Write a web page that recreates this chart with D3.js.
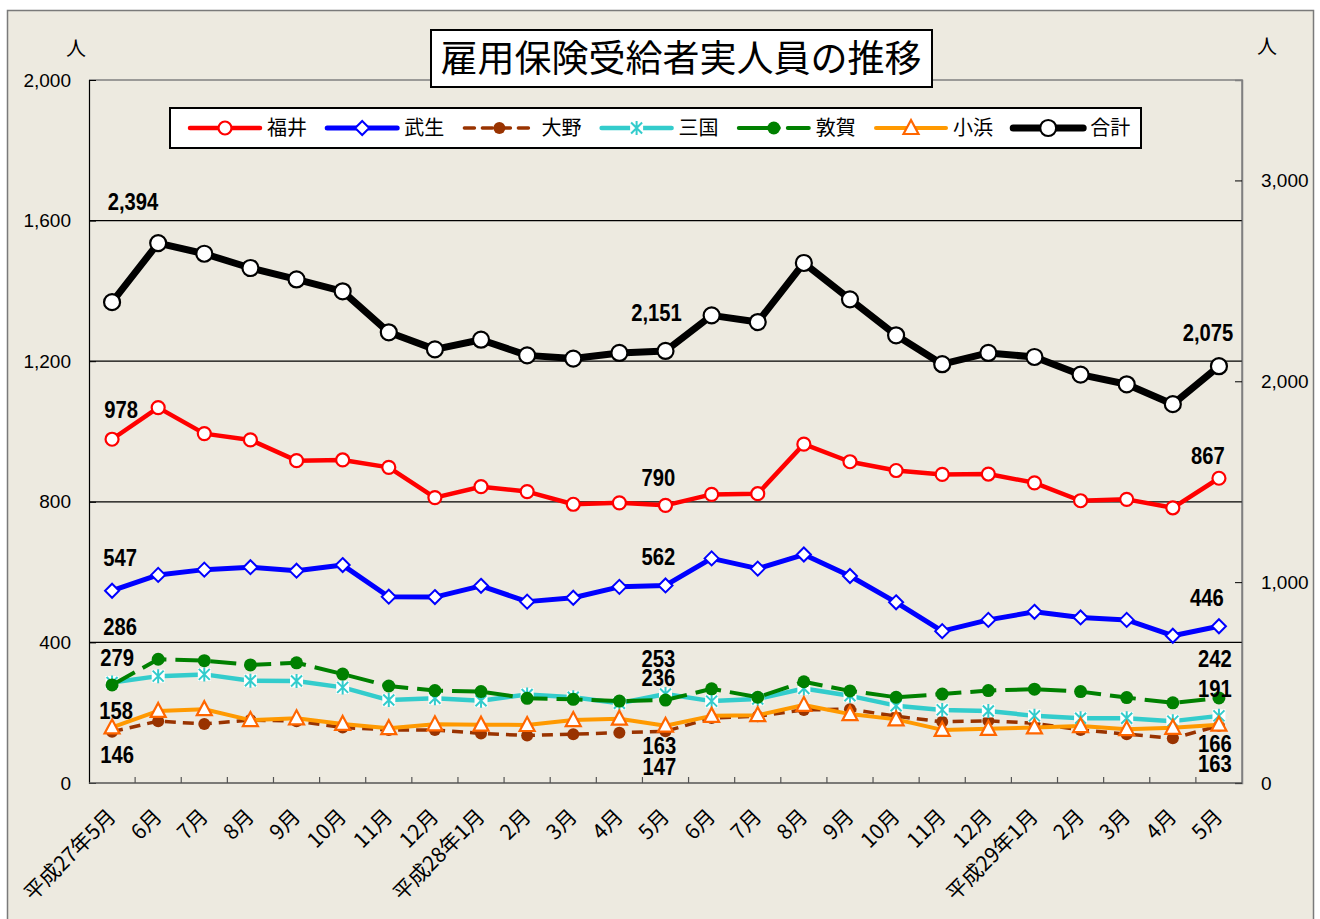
<!DOCTYPE html>
<html lang="ja">
<head>
<meta charset="utf-8">
<title>雇用保険受給者実人員の推移</title>
<script src="https://cdn.jsdelivr.net/npm/d3@7"></script>
<style>
  body { margin: 0; background: #fff; }
  svg { display: block; }
  .cjk { font-family: "Noto Sans CJK JP", sans-serif; }
  .num { font-family: "Liberation Sans", Arial, sans-serif; }
  .lbl { font-family: "Liberation Sans", Arial, sans-serif; font-weight: bold; }
</style>
</head>
<body>
<script>
// months: H27/5 .. H29/5
var months = ["平成27年5月","6月","7月","8月","9月","10月","11月","12月",
              "平成28年1月","2月","3月","4月","5月","6月","7月","8月","9月","10月","11月","12月",
              "平成29年1月","2月","3月","4月","5月"];

var fukui  = [978, 1068, 994, 976, 917, 919, 898, 812, 843, 829, 793, 797, 790, 821, 823, 964, 914, 889, 878, 879, 854, 803, 807, 783, 867];
var takefu = [547, 592, 607, 614, 604, 620, 530, 529, 561, 516, 527, 558, 562, 639, 610, 650, 589, 514, 432, 464, 487, 471, 464, 419, 446];
var ono    = [146, 176, 168, 179, 176, 158, 151, 151, 141, 135, 139, 143, 147, 185, 190, 208, 210, 190, 174, 177, 170, 151, 139, 127, 163];
var mikuni = [286, 304, 309, 291, 290, 272, 236, 241, 234, 252, 244, 227, 253, 233, 239, 269, 248, 220, 208, 205, 191, 184, 184, 176, 191];
var tsuruga= [279, 352, 348, 336, 342, 310, 276, 263, 260, 241, 238, 233, 236, 268, 244, 288, 262, 244, 253, 263, 267, 260, 243, 228, 242];
var obama  = [158, 205, 210, 179, 184, 168, 156, 167, 166, 165, 179, 183, 163, 191, 193, 222, 196, 181, 151, 154, 158, 162, 153, 157, 166];
var total  = [2394, 2688, 2635, 2564, 2507, 2448, 2244, 2159, 2207, 2129, 2113, 2141, 2151, 2328, 2295, 2589, 2408, 2229, 2085, 2141, 2121, 2033, 1985, 1886, 2075];

var leftTicks = [0, 400, 800, 1200, 1600, 2000];
var rightTicks = [0, 1000, 2000, 3000];
var labelIdx = [0, 12, 24];

var W = 1320, H = 919;
var svg = d3.select("body").append("svg").attr("width", W).attr("height", H);

// outer chart frame
svg.append("rect").attr("x", 7.5).attr("y", 10.5).attr("width", 1306).attr("height", 920)
  .attr("fill", "#edeae0").attr("stroke", "#7a7a7a").attr("stroke-width", 1.5);

var L = 89, R = 1242, T = 80, B = 783;

var x = d3.scaleBand().domain(d3.range(months.length)).range([L, R]);
var px = function(i) { return x(i) + x.bandwidth() / 2; };
var yL = d3.scaleLinear().domain([0, 2000]).range([B, T]);
var yR = d3.scaleLinear().domain([0, 3500]).range([B, T]);

// plot border (top/right)
svg.append("path").attr("d", "M" + L + "," + T + "H" + R + "V" + B)
  .attr("fill", "none").attr("stroke", "#808080").attr("stroke-width", 1.5);

// gridlines
svg.append("g").selectAll("line").data(leftTicks.filter(function(d) { return d > 0 && d < 2000; }))
  .enter().append("line")
  .attr("x1", L).attr("x2", R)
  .attr("y1", function(d) { return yL(d); }).attr("y2", function(d) { return yL(d); })
  .attr("stroke", "#000").attr("stroke-width", 1.2);

// left axis
var gl = svg.append("g").attr("transform", "translate(" + L + ",0)")
  .call(d3.axisLeft(yL).tickValues(leftTicks).tickFormat(d3.format(",")).tickSize(-7).tickPadding(18));
gl.select(".domain").attr("stroke", "#000").attr("stroke-width", 1.2);
gl.selectAll("text").attr("class", "num").attr("font-size", 19).attr("fill", "#000");

// right axis
var gr = svg.append("g").attr("transform", "translate(" + R + ",0)")
  .call(d3.axisRight(yR).tickValues(rightTicks).tickFormat(d3.format(",")).tickSize(-7).tickPadding(19));
gr.select(".domain").attr("stroke", "#808080").attr("stroke-width", 1.5);
gr.selectAll("text").attr("class", "num").attr("font-size", 19).attr("fill", "#000");

// bottom axis with ticks at category boundaries
svg.append("line").attr("x1", L).attr("x2", R).attr("y1", B).attr("y2", B)
  .attr("stroke", "#555").attr("stroke-width", 1.5);
svg.append("g").selectAll("line").data(d3.range(1, months.length))
  .enter().append("line")
  .attr("x1", function(i) { return x(i); }).attr("x2", function(i) { return x(i); })
  .attr("y1", B).attr("y2", B - 6).attr("stroke", "#555").attr("stroke-width", 1.2);

svg.append("g").selectAll("text").data(months).enter().append("text")
  .attr("class", "cjk")
  .attr("font-size", 21)
  .attr("text-anchor", "end")
  .attr("transform", function(d, i) { return "translate(" + (px(i) + 5) + "," + (B + 35) + ") rotate(-45)"; })
  .text(function(d) { return d; });

// units
svg.append("text").attr("class", "cjk").attr("x", 76).attr("y", 56).attr("text-anchor", "middle").attr("font-size", 20).text("人");
svg.append("text").attr("class", "cjk").attr("x", 1267).attr("y", 54).attr("text-anchor", "middle").attr("font-size", 20).text("人");

// marker shapes
function marker(g, type, color, stroke) {
  if (type === "circleOpen") {
    g.append("circle").attr("r", 6.5).attr("fill", "#fff").attr("stroke", color).attr("stroke-width", 2.2);
  } else if (type === "circleBig") {
    g.append("circle").attr("r", 8).attr("fill", "#fff").attr("stroke", color).attr("stroke-width", 2.2);
  } else if (type === "diamond") {
    g.append("path").attr("d", "M0,-7L7,0L0,7L-7,0Z").attr("fill", "#fff").attr("stroke", color).attr("stroke-width", 2);
  } else if (type === "dot") {
    g.append("circle").attr("r", 6).attr("fill", color);
  } else if (type === "dotBig") {
    g.append("circle").attr("r", 6.5).attr("fill", color);
  } else if (type === "star") {
    g.append("rect").attr("x", -6.5).attr("y", -6.5).attr("width", 13).attr("height", 13).attr("fill", "#fff");
    g.append("path").attr("d", "M-5.5,-5.5L5.5,5.5M-5.5,5.5L5.5,-5.5M0,-7V7")
      .attr("stroke", color).attr("stroke-width", 2).attr("fill", "none");
  } else if (type === "triangle") {
    g.append("path").attr("d", "M0,-8L7.5,6H-7.5Z").attr("fill", "#fff").attr("stroke", stroke).attr("stroke-width", 2.2);
  }
}

var series = [
  { name: "福井", values: fukui,   axis: yL, color: "#ff0000", width: 4.5, dash: null,   mk: "circleOpen",
    lab: [[9, -21], [-7, -19], [-11, -14]] },
  { name: "武生", values: takefu,  axis: yL, color: "#0000ff", width: 5,   dash: null,   mk: "diamond",
    lab: [[8, -25], [-7, -20], [-12, -20]] },
  { name: "大野", values: ono,     axis: yL, color: "#993300", width: 3.5, dash: "11,7", mk: "dot",
    lab: [[5, 31], [-6, 44], [-4, 46]] },
  { name: "三国", values: mikuni,  axis: yL, color: "#33cccc", width: 4.5, dash: null,   mk: "star",
    lab: [[8, -47], [-7, -27], [-4, -19]] },
  { name: "敦賀", values: tsuruga, axis: yL, color: "#008000", width: 4,   dash: "26,9", mk: "dotBig",
    lab: [[5, -19], [-7, -14], [-4, -31]] },
  { name: "小浜", values: obama,   axis: yL, color: "#ff9900", width: 4,   dash: null,   mk: "triangle", mstroke: "#ff6600",
    lab: [[4, -8], [-6, 28], [-4, 27]] },
  { name: "合計", values: total,   axis: yR, color: "#000000", width: 7,   dash: null,   mk: "circleBig",
    lab: [[21, -92], [-9, -30], [-11, -25]] }
];

var line = d3.line();

series.forEach(function(s) {
  var pts = s.values.map(function(v, i) { return [px(i), s.axis(v)]; });
  var g = svg.append("g");
  g.append("path").attr("d", line(pts)).attr("fill", "none")
    .attr("stroke", s.color).attr("stroke-width", s.width)
    .attr("stroke-linejoin", "round")
    .attr("stroke-dasharray", s.dash);
  pts.forEach(function(p) {
    var m = g.append("g").attr("transform", "translate(" + p[0] + "," + p[1] + ")");
    marker(m, s.mk, s.color, s.mstroke);
  });
});

// data labels (slightly condensed bold numbers)
series.forEach(function(s) {
  labelIdx.forEach(function(i, k) {
    var lx = px(i) + s.lab[k][0], ly = s.axis(s.values[i]) + s.lab[k][1];
    svg.append("text").attr("class", "lbl")
      .attr("transform", "translate(" + lx + "," + ly + ") scale(0.92,1.05)")
      .attr("text-anchor", "middle").attr("font-size", 22)
      .text(d3.format(",")(s.values[i]));
  });
});

// title
svg.append("rect").attr("x", 431).attr("y", 30).attr("width", 501).attr("height", 57)
  .attr("fill", "#fff").attr("stroke", "#000").attr("stroke-width", 2);
svg.append("text").attr("class", "cjk").attr("x", 681).attr("y", 72)
  .attr("text-anchor", "middle").attr("font-size", 37).text("雇用保険受給者実人員の推移");

// legend
var lg = svg.append("g");
lg.append("rect").attr("x", 170).attr("y", 108).attr("width", 971).attr("height", 40)
  .attr("fill", "#fff").attr("stroke", "#000").attr("stroke-width", 2);
series.forEach(function(s, i) {
  var x0 = 190 + i * 137.2, yc = 128;
  lg.append("line").attr("x1", x0).attr("x2", x0 + 70).attr("y1", yc).attr("y2", yc)
    .attr("stroke", s.color).attr("stroke-width", s.width).attr("stroke-linecap", "round")
    .attr("stroke-dasharray", s.dash ? (s.mk === "dot" ? "10,8" : "40,9") : null);
  var m = lg.append("g").attr("transform", "translate(" + (x0 + 35) + "," + yc + ")");
  marker(m, s.mk, s.color, s.mstroke);
  lg.append("text").attr("class", "cjk").attr("x", x0 + 77).attr("y", yc + 7)
    .attr("font-size", 20).text(s.name);
});
</script>
</body>
</html>
